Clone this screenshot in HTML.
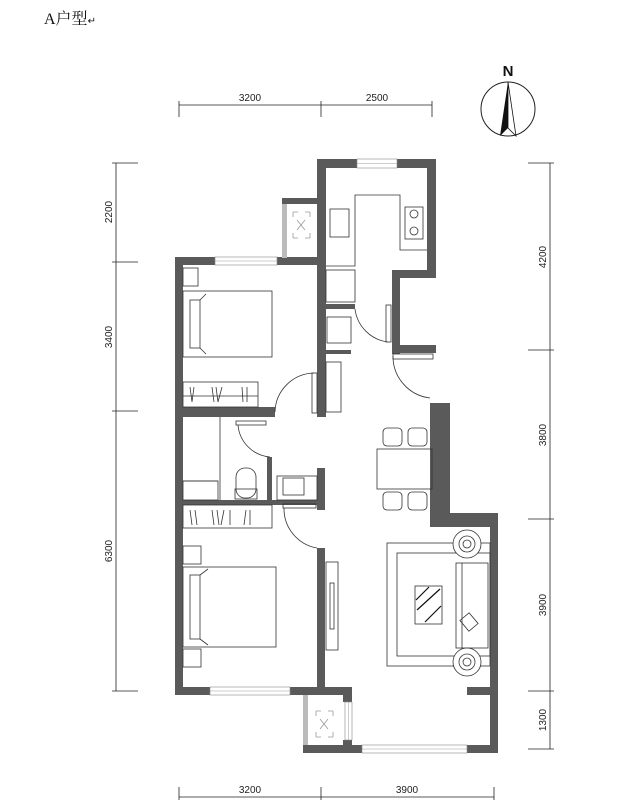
<!DOCTYPE html>
<html><head><meta charset="utf-8"><style>
html,body{margin:0;padding:0;background:#fff;}
svg{display:block;}
text{font-family:"Liberation Sans",Arial,sans-serif;font-size:10px;fill:#222;}
</style></head><body>
<svg width="637" height="806" viewBox="0 0 637 806" xmlns="http://www.w3.org/2000/svg">
<text x="44" y="24" style="font-family:'Liberation Serif','Noto Serif CJK SC',serif;font-size:16px;fill:#111">A户型<tspan style="font-size:10px">↵</tspan></text>

<!-- compass -->
<circle cx="508" cy="109" r="27" fill="none" stroke="#222" stroke-width="1"/>
<polygon points="508,82 500,136 508,128" fill="#111"/>
<polygon points="508,82 516,136 508,128" fill="none" stroke="#111" stroke-width="0.8"/>
<text x="508" y="76" text-anchor="middle" style="font-size:15px;font-weight:bold;fill:#111">N</text>

<!-- dimension lines -->
<g stroke="#222" stroke-width="0.8" fill="none">
<line x1="179" y1="105" x2="432" y2="105"/>
<line x1="179" y1="101" x2="179" y2="117"/><line x1="321" y1="101" x2="321" y2="117"/><line x1="432" y1="101" x2="432" y2="117"/>
<line x1="179" y1="797" x2="494" y2="797"/>
<line x1="179" y1="787" x2="179" y2="800"/><line x1="321" y1="787" x2="321" y2="800"/><line x1="494" y1="787" x2="494" y2="800"/>
<line x1="116" y1="163" x2="116" y2="691"/>
<line x1="112" y1="163" x2="138" y2="163"/><line x1="112" y1="262" x2="138" y2="262"/><line x1="112" y1="411" x2="138" y2="411"/><line x1="112" y1="691" x2="138" y2="691"/>
<line x1="550" y1="163" x2="550" y2="749"/>
<line x1="528" y1="163" x2="554" y2="163"/><line x1="528" y1="350" x2="554" y2="350"/><line x1="528" y1="519" x2="554" y2="519"/><line x1="528" y1="691" x2="554" y2="691"/><line x1="528" y1="749" x2="554" y2="749"/>
</g>
<text x="250" y="101" text-anchor="middle">3200</text>
<text x="377" y="101" text-anchor="middle">2500</text>
<text x="250" y="793" text-anchor="middle">3200</text>
<text x="407" y="793" text-anchor="middle">3900</text>
<text transform="translate(112,212) rotate(-90)" text-anchor="middle">2200</text>
<text transform="translate(112,337) rotate(-90)" text-anchor="middle">3400</text>
<text transform="translate(112,551) rotate(-90)" text-anchor="middle">6300</text>
<text transform="translate(546,257) rotate(-90)" text-anchor="middle">4200</text>
<text transform="translate(546,435) rotate(-90)" text-anchor="middle">3800</text>
<text transform="translate(546,605) rotate(-90)" text-anchor="middle">3900</text>
<text transform="translate(546,720) rotate(-90)" text-anchor="middle">1300</text>

<!-- walls -->
<g fill="#5a5a5a">
<!-- kitchen -->
<rect x="317" y="159" width="119" height="9"/>
<rect x="317" y="159" width="9" height="258"/>
<rect x="427" y="159" width="9" height="119"/>
<rect x="392" y="270" width="44" height="8"/>
<rect x="392" y="270" width="8" height="84"/>
<rect x="392" y="345" width="44" height="8"/>
<rect x="326" y="304" width="29" height="5"/>
<rect x="326" y="350" width="25" height="4"/>
<!-- small balcony top -->
<rect x="282" y="198" width="35" height="6"/>
<rect x="282" y="198" width="5" height="60"/>
<!-- bedroom1 -->
<rect x="175" y="257" width="142" height="8"/>
<rect x="175" y="257" width="8" height="438"/>
<rect x="175" y="407" width="100" height="10"/>
<!-- bath -->
<rect x="183" y="500" width="142" height="5"/>
<rect x="267" y="457" width="5" height="45"/>
<rect x="317" y="468" width="8" height="42"/>
<rect x="183" y="413" width="22" height="4"/>
<!-- right -->
<rect x="430" y="403" width="20" height="124"/>
<rect x="430" y="513" width="68" height="14"/>
<rect x="490" y="513" width="8" height="240"/>
<rect x="467" y="687" width="31" height="8"/>
<!-- bedroom2 bottom / partition -->
<rect x="317" y="548" width="8" height="147"/>
<rect x="175" y="687" width="177" height="8"/>
<!-- lower balcony -->
<rect x="303" y="687" width="5" height="66"/>
<rect x="343" y="687" width="9" height="15"/>
<rect x="343" y="740" width="9" height="13"/>
<rect x="303" y="745" width="195" height="8"/>
</g>
<!-- windows -->
<g fill="#fff" stroke="#888" stroke-width="0.6">
<rect x="357" y="159" width="40" height="9"/>
<rect x="215" y="257" width="62" height="8"/>
<rect x="210" y="687" width="80" height="8"/>
<rect x="362" y="745" width="105" height="8"/>
<rect x="345" y="702" width="7" height="38"/>
</g>
<g stroke="#999" stroke-width="0.5">
<line x1="357" y1="163.5" x2="397" y2="163.5"/><line x1="215" y1="261" x2="277" y2="261"/>
<line x1="210" y1="691" x2="290" y2="691"/><line x1="362" y1="749" x2="467" y2="749"/>
<line x1="348.5" y1="702" x2="348.5" y2="740"/>
</g>
<rect x="282" y="204" width="5" height="54" fill="#bbb"/>
<rect x="303" y="695" width="5" height="50" fill="#bbb"/>

<!-- furniture -->
<g fill="none" stroke="#333" stroke-width="0.8">
<!-- kitchen counter -->
<polyline points="326,266 355,266 355,195 400,195 400,250 427,250"/>
<rect x="330" y="209" width="19" height="28"/>
<rect x="405" y="207" width="18" height="32"/>
<circle cx="414" cy="214" r="4"/><circle cx="414" cy="231" r="4"/>
<rect x="326" y="270" width="29" height="32"/>
<rect x="327" y="317" width="24" height="26"/>
<rect x="326" y="362" width="15" height="50"/>
<path d="M355 309 A 38 38 0 0 0 388 342"/>
<rect x="386" y="305" width="5" height="37"/>
<path d="M393 356 A 42 42 0 0 0 430 398"/>
<rect x="393" y="354" width="40" height="5"/>
<!-- small balcony X -->
<path d="M293 212 l5 0 M293 212 l0 5 M310 212 l-5 0 M310 212 l0 5 M293 238 l5 0 M293 238 l0 -5 M310 238 l-5 0 M310 238 l0 -5 M297 220 l8 10 M305 220 l-8 10" stroke="#999"/>
<path d="M316 711 l5 0 M316 711 l0 5 M333 711 l-5 0 M333 711 l0 5 M316 737 l5 0 M316 737 l0 -5 M333 737 l-5 0 M333 737 l0 -5 M320 719 l8 10 M328 719 l-8 10" stroke="#999"/>
<!-- bed1 -->
<rect x="183" y="268" width="15" height="18"/>
<rect x="183" y="291" width="89" height="66"/>
<rect x="190" y="300" width="10" height="48"/>
<line x1="200" y1="300" x2="206" y2="294"/><line x1="200" y1="348" x2="206" y2="354"/>
<rect x="183" y="382" width="75" height="25"/>
<line x1="183" y1="396" x2="258" y2="396"/>
<path d="M190 387 l2 15 M194 387 l-2 15 M212 387 l2 15 M216 387 l2 15 M222 387 l-4 15 M242 387 l1 15 M247 387 l0 15"/>
<rect x="312" y="373" width="5" height="40"/>
<path d="M314 373 A 40 40 0 0 0 275 412"/>
<!-- bath -->
<line x1="220" y1="417" x2="220" y2="500"/>
<rect x="183" y="481" width="35" height="19"/>
<line x1="183" y1="481" x2="218" y2="481"/>
<rect x="236" y="468" width="20" height="30" rx="9"/>
<rect x="235" y="489" width="22" height="10"/>
<rect x="277" y="476" width="40" height="24"/>
<rect x="283" y="478" width="21" height="17"/>
<rect x="236" y="421" width="30" height="4"/>
<path d="M238 425 A 35 35 0 0 0 270 457"/>
<rect x="283" y="504" width="33" height="4"/>
<path d="M284 508 A 40 40 0 0 0 317 548"/>
<!-- bed2 wardrobe -->
<rect x="183" y="505" width="89" height="23"/>
<path d="M190 510 l2 15 M195 510 l2 15 M212 510 l2 15 M217 510 l2 15 M224 510 l-3 15 M230 510 l0 15 M246 510 l-2 15 M250 510 l0 15"/>
<rect x="183" y="546" width="18" height="18"/>
<rect x="183" y="567" width="93" height="80"/>
<rect x="190" y="575" width="10" height="64"/>
<line x1="200" y1="575" x2="208" y2="569"/><line x1="200" y1="639" x2="208" y2="645"/>
<rect x="183" y="649" width="18" height="18"/>
<!-- TV -->
<rect x="326" y="562" width="12" height="88"/>
<rect x="330" y="583" width="4" height="46"/>
<!-- dining -->
<rect x="377" y="449" width="55" height="40"/>
<rect x="383" y="428" width="19" height="18" rx="4"/><rect x="408" y="428" width="19" height="18" rx="4"/>
<rect x="383" y="492" width="19" height="18" rx="4"/><rect x="408" y="492" width="19" height="18" rx="4"/>
<!-- living -->
<rect x="387" y="543" width="103" height="123"/>
<rect x="397" y="553" width="93" height="103"/>
<rect x="456" y="563" width="32" height="85"/>
<line x1="462" y1="563" x2="462" y2="648"/>
<rect x="415" y="586" width="27" height="38"/>
<path d="M417 610 L440 589 M425 622 L441 606 M416 600 L429 587" stroke="#111" stroke-width="1.2"/>
<circle cx="467" cy="544" r="14" fill="#fff"/><circle cx="467" cy="544" r="8"/><circle cx="467" cy="544" r="4"/>
<circle cx="467" cy="662" r="14" fill="#fff"/><circle cx="467" cy="662" r="8"/><circle cx="467" cy="662" r="4"/>
<rect x="463" y="615" width="12" height="14" transform="rotate(-40 469 622)"/>
</g>
</svg>
</body></html>
